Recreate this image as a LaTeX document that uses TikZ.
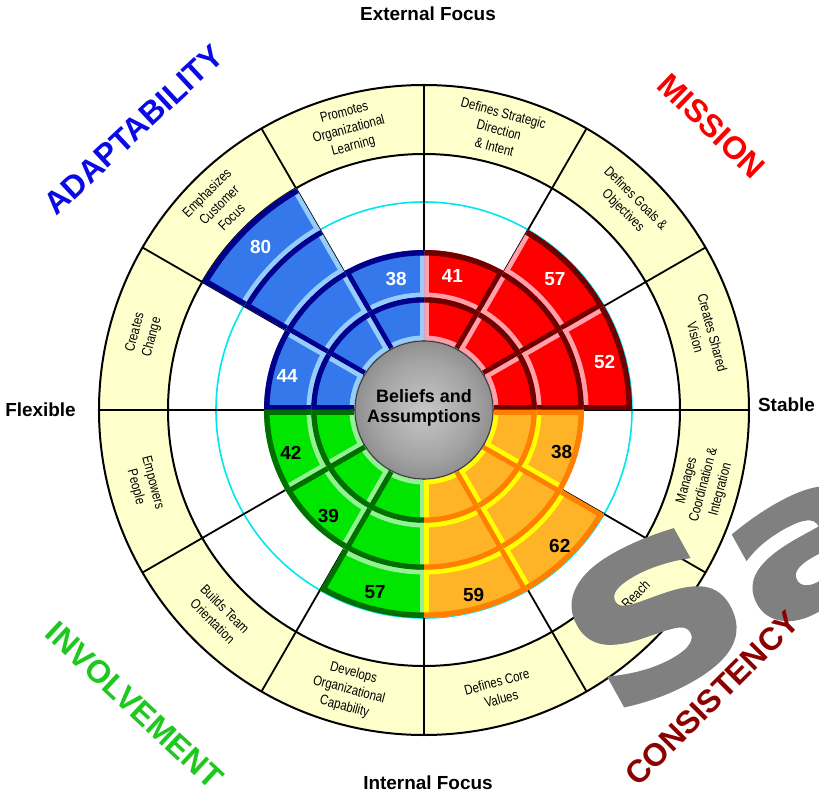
\documentclass[tikz,border=0pt]{standalone}
\usepackage{fontspec}
\setmainfont{Liberation Sans}
\newfontfamily\narrowfont[FakeStretch=0.82]{Liberation Sans}
\newfontfamily\wmfont[FakeStretch=1.25,FakeBold=2]{DejaVu Sans}

\definecolor{blueBase}{RGB}{52,120,235}
\definecolor{blueLight}{RGB}{150,205,250}
\definecolor{blueDark}{RGB}{0,0,140}
\definecolor{redBase}{RGB}{255,0,0}
\definecolor{redLight}{RGB}{255,160,170}
\definecolor{redDark}{RGB}{110,0,0}
\definecolor{greenBase}{RGB}{0,230,0}
\definecolor{greenLight}{RGB}{150,240,150}
\definecolor{greenDark}{RGB}{0,110,0}
\definecolor{orangeBase}{RGB}{255,180,40}
\definecolor{orangeLight}{RGB}{255,255,0}
\definecolor{orangeDark}{RGB}{255,128,0}
\definecolor{ringYellow}{RGB}{255,255,204}
\definecolor{cyanLine}{RGB}{0,230,240}
\definecolor{adaptBlue}{RGB}{10,10,230}
\definecolor{missionRed}{RGB}{250,0,0}
\definecolor{involveGreen}{RGB}{30,200,30}
\definecolor{consistRed}{RGB}{140,0,0}
\definecolor{wmGray}{RGB}{128,128,128}

\pgfdeclareradialshading{hubshade}{\pgfpoint{0bp}{0bp}}{rgb(0bp)=(0.78,0.78,0.78); rgb(18bp)=(0.64,0.64,0.64); rgb(38bp)=(0.42,0.42,0.42); rgb(50bp)=(0.2,0.2,0.2)}

% one bar: a1, a2, number of rings, base, light, dark, light-edge angle, dark-edge angle
\newcommand{\dbar}[8]{%
  \foreach \j in {1,...,#3}{%
    \pgfmathsetmacro{\rin}{{70,113,160,208}[\j-1]}%
    \pgfmathsetmacro{\rout}{{113,160,208,256}[\j-1]}%
    \begin{scope}
      \clip (#1:\rin) -- (#1:\rout) arc[start angle=#1, end angle=#2, radius=\rout] -- (#2:\rin) arc[start angle=#2, end angle=#1, radius=\rin] -- cycle;
      \fill[#4] (0,0) circle[radius=\rout];
      \draw[#5, line width=9bp] (0,0) -- (#7:300);
      \draw[#5, line width=9bp] (0,0) circle[radius=\rin];
      \draw[#6, line width=10bp] (0,0) -- (#8:300);
      \draw[#6, line width=11bp] (0,0) circle[radius=\rout];
    \end{scope}}}

\begin{document}
\begin{tikzpicture}[x=1bp,y=1bp,
  numw/.style={font=\fontsize{19}{19}\selectfont\bfseries, text=white, inner sep=0},
  numb/.style={font=\fontsize{19}{19}\selectfont\bfseries, text=black, inner sep=0},
  seglab/.style={font=\narrowfont\fontsize{14}{17.5}\selectfont, align=center, inner sep=0},
  side/.style={font=\fontsize{19}{19}\selectfont\bfseries, inner sep=0},
  quad/.style={font=\fontsize{32}{32}\selectfont\bfseries, inner sep=0, anchor=base},
  divider/.style={line width=1.8bp, black},
  ringline/.style={line width=2bp, black}]
\clip (-424,-389) rectangle (395,410);
\fill[white] (-424,-389) rectangle (395,410);

% outer label ring
\fill[ringYellow, even odd rule] (0,0) circle[radius=325] (0,0) circle[radius=256];
\draw[cyanLine, line width=1.6bp] (0,0) circle[radius=208];
\foreach \a in {0,30,...,330} \draw[divider] (\a:69) -- (\a:325);
\draw[ringline] (0,0) circle[radius=325];
\draw[ringline] (0,0) circle[radius=256];

% bars
\dbar{60}{90}{2}{redBase}{redLight}{redDark}{90}{60}
\dbar{30}{60}{3}{redBase}{redLight}{redDark}{60}{30}
\dbar{0}{30}{3}{redBase}{redLight}{redDark}{30}{0}
\dbar{90}{120}{2}{blueBase}{blueLight}{blueDark}{90}{120}
\dbar{120}{150}{4}{blueBase}{blueLight}{blueDark}{120}{150}
\dbar{150}{180}{2}{blueBase}{blueLight}{blueDark}{150}{180}
\dbar{180}{210}{2}{greenBase}{greenLight}{greenDark}{210}{180}
\dbar{210}{240}{2}{greenBase}{greenLight}{greenDark}{240}{210}
\dbar{240}{270}{3}{greenBase}{greenLight}{greenDark}{270}{240}
\dbar{270}{300}{3}{orangeBase}{orangeLight}{orangeDark}{270}{300}
\dbar{300}{330}{3}{orangeBase}{orangeLight}{orangeDark}{300}{330}
\dbar{330}{360}{2}{orangeBase}{orangeLight}{orangeDark}{330}{360}

% values
\node[numw] (v41) at (78:137) {41};
\node[numw] (v57r) at (45:185) {57};
\node[numw] (v52) at (15:187) {52};
\node[numw] (v38b) at (102:134) {38};
\node[numw] (v80) at (135:231) {80};
\node[numw] (v44) at (166:141) {44};
\node[numb] (v42) at (198:140) {42};
\node[numb] (v39) at (228:143) {39};
\node[numb] (v57g) at (255:189) {57};
\node[numb] (v59) at (285:192) {59};
\node[numb] (v62) at (315:192) {62};
\node[numb] (v38o) at (343:144) {38};

% hub
\shade[shading=hubshade] (0,0) circle[radius=69];
\draw[black!75, line width=1.2bp] (0,0) circle[radius=69];
\node[font=\fontsize{18}{20}\selectfont\bfseries, align=center, inner sep=0] (hub) at (0,2) {Beliefs and\\Assumptions};

% segment labels
\foreach \ang/\txt in {75/{Defines Strategic\\Direction\\\& Intent},
                       45/{Defines Goals \&\\Objectives},
                       15/{Creates Shared\\Vision},
                       345/{Manages\\Coordination \&\\Integration},
                       315/{Able to Reach\\Agreement},
                       285/{Defines Core\\Values},
                       255/{Develops\\Organizational\\Capability},
                       225/{Builds Team\\Orientation},
                       195/{Empowers\\People},
                       165/{Creates\\Change},
                       135/{Emphasizes\\Customer\\Focus},
                       105/{Promotes\\Organizational\\Learning}}{
  \pgfmathsetmacro{\rot}{\ang<180 ? \ang-90 : \ang+90}
  \node[seglab, rotate=\rot] (lab\ang) at (\ang:290) {\txt};
}

% axis labels
\node[side] (ext) at (4,396) {External Focus};
\node[side] (int) at (4,-373) {Internal Focus};
\node[side] (flex) at (-383.5,0) {Flexible};
\node[side] (stab) at (362.5,5) {Stable};

% quadrant titles
\node[quad, text=adaptBlue, rotate=43] (adapt) at (-283,272) {ADAPTABILITY};
\node[quad, text=missionRed, rotate=-44] (mission) at (280,276) {MISSION};
\node[quad, text=involveGreen, rotate=-43] (involve) at (-297,-303) {INVOLVEMENT};

% watermark
\node[font=\wmfont\fontsize{195}{195}\selectfont\bfseries, text=wmGray, rotate=29, anchor=base west, inner sep=0] (wm) at (188,-311) {Sample};

\node[quad, text=consistRed, rotate=45] (consist) at (296,-296) {CONSISTENCY};
\end{tikzpicture}
\end{document}
